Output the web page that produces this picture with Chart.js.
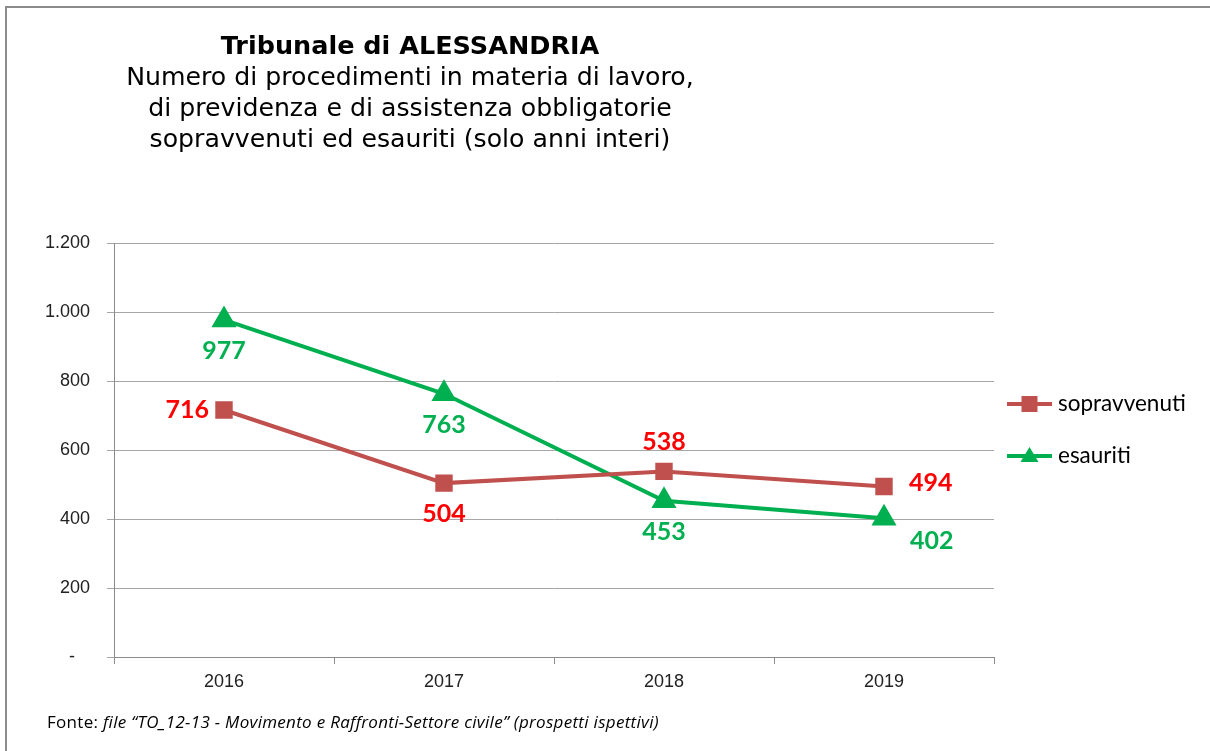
<!DOCTYPE html>
<html lang="it">

<head>
    <meta charset="UTF-8">
    <title>Tribunale di ALESSANDRIA</title>
    <script src="https://cdn.jsdelivr.net/npm/chart.js"></script>
    <style>
        html, body { margin: 0; padding: 0; background: #fff; }
        body { width: 1210px; height: 751px; position: relative; overflow: hidden; }
        #frame {
            position: absolute; left: 5px; top: 6px; width: 1300px; height: 900px;
            border-left: 2px solid #8c8c8c; border-top: 2px solid #8c8c8c;
        }
        #chart-box { position: absolute; left: 0; top: 0; width: 1210px; height: 751px; }
        #titolo {
            position: absolute; left: 0; top: 30px; width: 820px; text-align: center;
            font-family: "DejaVu Sans", Verdana, sans-serif; color: #000;
        }
        #titolo .t1 { font-weight: bold; font-size: 25.5px; line-height: 31px; }
        #titolo .t2 { font-size: 25.2px; line-height: 31px; }
        #fonte {
            position: absolute; left: 47px; top: 710px; letter-spacing: 0.3px;
            font-family: "Open Sans", Lato, sans-serif; font-size: 17px; color: #000;
        }
    </style>
</head>

<body>
    <div id="frame"></div>
    <div id="chart-box">
        <canvas id="chartLavoro" width="1210" height="751"></canvas>
    </div>
    <div id="titolo">
        <div class="t1">Tribunale di ALESSANDRIA</div>
        <div class="t2">Numero di procedimenti in materia di lavoro,<br>di previdenza e di assistenza obbligatorie<br>sopravvenuti ed esauriti (solo anni interi)</div>
    </div>
    <div id="fonte">Fonte: <i>file “TO_12-13 - Movimento e Raffronti-Settore civile” (prospetti ispettivi)</i></div>

<script>
    // dati
    const anni = ['2016', '2017', '2018', '2019'];
    const sopravvenuti = [716, 504, 538, 494];
    const esauriti = [977, 763, 453, 402];
    const tickValori = [0, 200, 400, 600, 800, 1000, 1200];

    // posizione delle etichette rispetto al punto
    const posSopravvenuti = ['left', 'below', 'above', 'right'];
    const posEsauriti = ['below', 'below', 'below', 'belowright'];

    const rosso = '#C0504D';
    const verde = '#00B050';

    function formatta(v) {
        if (v === 0) return '-';
        return v.toString().replace(/\B(?=(\d{3})+(?!\d))/g, '.');
    }

    // etichette dei valori
    const etichette = {
        id: 'etichette',
        afterDatasetsDraw(chart) {
            const ctx = chart.ctx;
            const conf = [
                { pos: posSopravvenuti, colore: '#FF0000' },
                { pos: posEsauriti, colore: '#00B050' }
            ];
            ctx.save();
            ctx.font = 'bold 25px Lato, "Open Sans", sans-serif';
            ctx.textBaseline = 'middle';
            chart.data.datasets.forEach(function (ds, i) {
                const meta = chart.getDatasetMeta(i);
                ctx.fillStyle = conf[i].colore;
                meta.data.forEach(function (p, j) {
                    const testo = formatta(ds.data[j]);
                    const pos = conf[i].pos[j];
                    let x = p.x, y = p.y;
                    ctx.textAlign = 'center';
                    if (pos === 'below') { y += 31; }
                    else if (pos === 'above') { y -= 29; }
                    else if (pos === 'left') { ctx.textAlign = 'right'; x -= 15; }
                    else if (pos === 'right') { ctx.textAlign = 'left'; x += 25; y -= 4; }
                    else if (pos === 'belowright') { ctx.textAlign = 'left'; x += 26; y += 23; }
                    ctx.fillText(testo, x, y);
                });
            });
            ctx.restore();
        }
    };

    // legenda a destra con linea e marcatore
    const legenda = {
        id: 'legenda',
        afterDraw(chart) {
            const ctx = chart.ctx;
            const x0 = 1007, x1 = 1052, yStart = 404, passo = 52;
            ctx.save();
            chart.data.datasets.forEach(function (ds, i) {
                const y = yStart + i * passo;
                ctx.strokeStyle = ds.borderColor;
                ctx.lineWidth = 4;
                ctx.beginPath();
                ctx.moveTo(x0, y);
                ctx.lineTo(x1, y);
                ctx.stroke();
                ctx.fillStyle = ds.pointBackgroundColor;
                const cx = (x0 + x1) / 2;
                if (ds.pointStyle === 'rect') {
                    ctx.fillRect(cx - 8, y - 8, 16, 16);
                } else {
                    ctx.beginPath();
                    ctx.moveTo(cx, y - 9);
                    ctx.lineTo(cx + 9, y + 6);
                    ctx.lineTo(cx - 9, y + 6);
                    ctx.closePath();
                    ctx.fill();
                }
                ctx.fillStyle = '#000';
                ctx.font = '22.5px Lato, "Open Sans", sans-serif';
                ctx.textAlign = 'left';
                ctx.textBaseline = 'middle';
                ctx.fillText(ds.label, 1058, y);
            });
            ctx.restore();
        }
    };

    const ctx1 = document.getElementById('chartLavoro');

    const chartLavoro = new Chart(ctx1, {
        type: 'line',
        data: {
            labels: anni,
            datasets: [{
                label: 'sopravvenuti',
                data: sopravvenuti,
                borderColor: rosso,
                backgroundColor: rosso,
                pointBackgroundColor: rosso,
                pointBorderColor: rosso,
                pointStyle: 'rect',
                pointRadius: 9.5,
                borderWidth: 4,
                tension: 0
            }, {
                label: 'esauriti',
                data: esauriti,
                borderColor: verde,
                backgroundColor: verde,
                pointBackgroundColor: verde,
                pointBorderColor: verde,
                pointStyle: 'triangle',
                pointRadius: 10.5,
                borderWidth: 4,
                tension: 0
            }]
        },
        plugins: [etichette, legenda],
        options: {
            responsive: false,
            animation: false,
            events: [],
            layout: {
                padding: { left: 0, top: 243, right: 216, bottom: 0 }
            },
            plugins: {
                legend: { display: false },
                tooltip: { enabled: false }
            },
            scales: {
                x: {
                    offset: true,
                    afterFit: function (scale) { scale.height = 94; },
                    grid: {
                        offset: true,
                        drawOnChartArea: false,
                        drawTicks: true,
                        tickLength: 7,
                        color: '#8c8c8c',
                        lineWidth: 1
                    },
                    border: { color: '#8c8c8c', width: 1 },
                    ticks: {
                        color: '#222',
                        font: { size: 18, family: '"Liberation Sans", Arial, sans-serif' },
                        padding: 7
                    }
                },
                y: {
                    min: 0,
                    max: 1200,
                    afterFit: function (scale) { scale.width = 114; },
                    afterBuildTicks: function (scale) {
                        scale.ticks = tickValori.map(v => ({ value: v }));
                    },
                    grid: {
                        color: '#a6a6a6',
                        lineWidth: 1,
                        tickLength: 7
                    },
                    border: { color: '#8c8c8c', width: 1 },
                    ticks: {
                        color: '#222',
                        font: { size: 18, family: '"Liberation Sans", Arial, sans-serif' },
                        padding: 17,
                        // il trattino dello zero sta un po' più a sinistra
                        callback: function (v) { return v === 0 ? '-   ' : formatta(v); }
                    }
                }
            }
        }
    });
</script>
</body>

</html>
